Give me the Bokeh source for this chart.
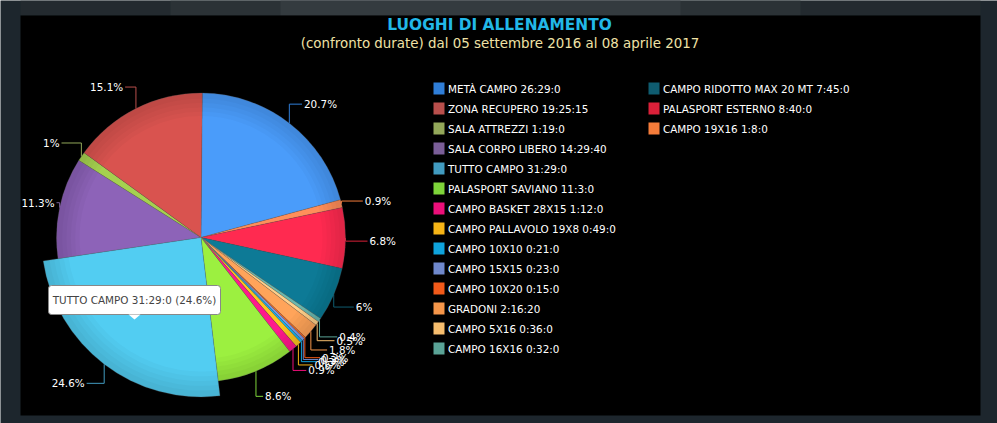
import math
from bokeh.plotting import figure
from bokeh.models import Range1d
from bokeh.core.properties import value
from bokeh.embed import file_html
from bokeh.resources import INLINE

# --- data, legend order ---
names = ["METÀ CAMPO", "ZONA RECUPERO", "SALA ATTREZZI", "SALA CORPO LIBERO", "TUTTO CAMPO",
         "PALASPORT SAVIANO", "CAMPO BASKET 28X15", "CAMPO PALLAVOLO 19X8", "CAMPO 10X10",
         "CAMPO 15X15", "CAMPO 10X20", "GRADONI", "CAMPO 5X16", "CAMPO 16X16",
         "CAMPO RIDOTTO MAX 20 MT", "PALASPORT ESTERNO", "CAMPO 19X16"]
durations = ["26:29:0", "19:25:15", "1:19:0", "14:29:40", "31:29:0", "11:3:0", "1:12:0", "0:49:0",
             "0:21:0", "0:23:0", "0:15:0", "2:16:20", "0:36:0", "0:32:0", "7:45:0", "8:40:0", "1:8:0"]
percents = ["20.7%", "15.1%", "1%", "11.3%", "24.6%", "8.6%", "0.9%", "0.6%", "0.3%",
            "0.3%", "0.2%", "1.8%", "0.5%", "0.4%", "6%", "6.8%", "0.9%"]
slice_colors = ["#4a9cfa", "#d9534f", "#a5d14f", "#8d63b8", "#52cdf2", "#9cf040", "#ff1a8c", "#ffc51f",
                "#17b2ee", "#7f9be6", "#ff6a20", "#ffa45a", "#ffd08a", "#6ab8ae", "#0d7a96", "#ff2a50", "#ff8f5a"]
swatch_colors = ["#2f7ed8", "#b84f4c", "#93a85a", "#7a5e98", "#419bc0", "#7ed43a", "#ec0f7a", "#f5b416",
                 "#0fa3dc", "#6f88cc", "#f15a1a", "#f5964a", "#f6bd6e", "#5aa396", "#0f5c70", "#da2039", "#f57c3a"]
hovered = "TUTTO CAMPO"
title = "LUOGHI DI ALLENAMENTO"
subtitle = "(confronto durate) dal 05 settembre 2016 al 08 aprile 2017"

# --- layout (page pixels) ---
CX, CY, R, R_HOVER = 200.5, 237, 144.5, 159.5
START = math.radians(0.5)
ROW = 14
LABEL_MIN_X = 56  # left labels stay inside the black panel
FS = "10.4px"


def hours(s):
    h, m, sec = s.split(":")
    return int(h) + int(m) / 60 + int(sec) / 3600


vals = [hours(d) for d in durations]
total = sum(vals)
# pie runs clockwise from 12 o'clock: first item, then the rest in reverse legend order
order = [0] + list(range(len(names) - 1, 0, -1))

p = figure(width=997, height=423, output_backend="svg", toolbar_location=None,
           x_range=Range1d(0, 997), y_range=Range1d(423, 0),
           x_axis_type=None, y_axis_type=None, min_border=0,
           background_fill_color="#1d262d", border_fill_color="#1d262d", outline_line_color=None)
p.grid.visible = False

# page strip above the panel, stepping lighter to the middle, then the panel
p.quad(left=[20], right=[980], top=[0], bottom=[15], fill_color="#232a2f", line_color=None)
p.quad(left=[170], right=[800], top=[0], bottom=[15], fill_color="#2b3236", line_color=None)
p.quad(left=[280], right=[680], top=[0], bottom=[15], fill_color="#343b3f", line_color=None)
p.quad(left=[20], right=[980], top=[15], bottom=[415], fill_color="#000000", line_color=None)

# compute slices
slices = []
cum = 0.0
for i in order:
    frac = vals[i] / total
    a0 = START + cum * 2 * math.pi
    a1 = START + (cum + frac) * 2 * math.pi
    mid = (a0 + a1) / 2
    cum += frac
    hov = names[i] == hovered
    slices.append(dict(i=i, a0=a0, a1=a1, mid=mid, r=R_HOVER if hov else R, hov=hov))

# connectors and percent labels
xs, ys, cols, tx, ty, tt, ta = [], [], [], [], [], [], []
for s in slices:
    sx, cx = math.sin(s["mid"]), math.cos(s["mid"])
    ex, ey = CX + s["r"] * sx, CY - s["r"] * cx
    lx, ly = CX + (s["r"] + 24) * sx, CY - (s["r"] + 24) * cx
    lx = max(lx, LABEL_MIN_X)
    right = sx >= 0
    if right:
        lx -= 2
        if cx < 0.5:
            ly += 3
    elif s["hov"]:
        lx -= 3
    xs.append([ex, ex, lx])
    ys.append([ey, ly, ly])
    cols.append(swatch_colors[s["i"]])
    tx.append(lx + (2 if right else -2))
    ty.append(ly)
    tt.append(percents[s["i"]])
    ta.append("left" if right else "right")
p.multi_line(xs, ys, line_color=cols, line_width=1)

# slices, hovered one last so it sits on top
RINGS = [0.84, 0.87, 0.90, 0.93, 0.96]
draw = [s for s in slices if not s["hov"]] + [s for s in slices if s["hov"]]
for s in draw:
    ang0 = math.pi / 2 - s["a1"]
    ang1 = math.pi / 2 - s["a0"]
    p.wedge(x=[CX], y=[CY], radius=[s["r"]], start_angle=[ang0], end_angle=[ang1],
            fill_color=slice_colors[s["i"]], line_color="#666666", line_alpha=0.35, line_width=0.7)
    for f in RINGS:
        p.annular_wedge(x=[CX], y=[CY], inner_radius=[s["r"] * f], outer_radius=[s["r"]],
                        start_angle=[ang0], end_angle=[ang1],
                        fill_color="#000000", fill_alpha=0.022, line_color=None)

p.text(tx, ty, text=tt, text_align=ta, text_baseline="middle", text_color="#ffffff",
       text_font=value("DejaVu Sans"), text_font_size=FS)

# titles
p.text([499], [24], text=[title], text_align="center", text_baseline="middle", text_color="#22b8e8",
       text_font=value("DejaVu Sans"), text_font_size="15.4px", text_font_style="bold")
p.text([499.5], [43], text=[subtitle], text_align="center", text_baseline="middle", text_color="#f0e2a6",
       text_font=value("DejaVu Sans"), text_font_size="13.4px")

# legend
lx0, lx1, lt, lb, txs, tys, lab = [], [], [], [], [], [], []
for k, name in enumerate(names):
    col, row = (0, k) if k < ROW else (1, k - ROW)
    x = 433 + col * 215
    y = 88 + row * 20
    lx0.append(x); lx1.append(x + 11); lt.append(y - 6); lb.append(y + 6)
    txs.append(x + 14.5); tys.append(y)
    lab.append(f"{name} {durations[k]}")
p.quad(left=lx0, right=lx1, top=lt, bottom=lb, fill_color=swatch_colors, line_color=None)
p.text(txs, tys, text=lab, text_align="left", text_baseline="middle", text_color="#ffffff",
       text_font=value("DejaVu Sans"), text_font_size=FS)

# tooltip
idx = names.index(hovered)
p.quad(left=[48], right=[220], top=[285], bottom=[314], fill_color="#ffffff", line_color="#888888",
       line_width=1, border_radius=3)
p.patch([128, 134, 140], [314, 319, 314], fill_color="#ffffff", line_color=None)
p.text([134], [299.5], text=[f"{hovered} {durations[idx]} ({percents[idx]})"], text_align="center",
       text_baseline="middle", text_color="#444444", text_font=value("DejaVu Sans"), text_font_size=FS)

open("out.html", "w").write(file_html(p, INLINE))
